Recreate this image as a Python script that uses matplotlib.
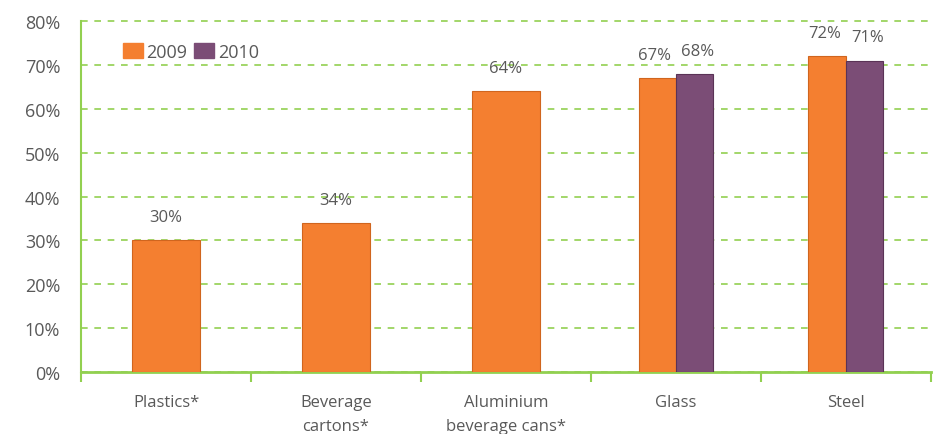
import matplotlib.pyplot as plt
import numpy as np

plt.rcParams['font.family'] = ['Open Sans', 'DejaVu Sans']

# data
categories = ['Plastics*', 'Beverage\ncartons*', 'Aluminium\nbeverage cans*', 'Glass', 'Steel']
values_2009 = [30, 34, 64, 67, 72]
values_2010 = [None, None, None, 68, 71]

orange = '#F47F30'
purple = '#7B4D76'
green = '#92D050'
text_col = '#595959'

fig = plt.figure(figsize=(9.39, 4.35), dpi=100)
ax = fig.add_axes([0.0863, 0.1425, 0.905, 0.8065])

x = np.arange(len(categories))
for i in range(len(categories)):
    v09 = values_2009[i]
    v10 = values_2010[i]
    if v10 is None:
        ax.bar(x[i], v09, width=0.4, color=orange, edgecolor='#D0651E', linewidth=0.8, zorder=3)
        ax.annotate(f'{v09}%', (x[i], v09), xytext=(0, 11), textcoords='offset points',
                    ha='center', va='bottom', fontsize=12, color=text_col)
    else:
        ax.bar(x[i] - 0.11, v09, width=0.22, color=orange, edgecolor='#D0651E', linewidth=0.8, zorder=3)
        ax.bar(x[i] + 0.11, v10, width=0.22, color=purple, edgecolor='#5A3356', linewidth=0.8, zorder=3)
        ax.annotate(f'{v09}%', (x[i] - 0.11, v09), xytext=(-2, 11), textcoords='offset points',
                    ha='center', va='bottom', fontsize=12, color=text_col)
        ax.annotate(f'{v10}%', (x[i] + 0.11, v10), xytext=(2, 11), textcoords='offset points',
                    ha='center', va='bottom', fontsize=12, color=text_col)

ax.set_xlim(-0.5, 4.5)
ax.set_ylim(0, 80)
ax.set_yticks(range(0, 81, 10))
ax.set_yticklabels([f'{t}%' for t in range(0, 81, 10)])
ax.yaxis.grid(True, color=green, linestyle=(0, (4, 4)), linewidth=1.2, zorder=0)
for gl in ax.get_ygridlines():
    gl.set_clip_on(False)
ax.tick_params(axis='y', length=0, pad=15, labelsize=13, labelcolor=text_col)

ax.set_xticks(x)
ax.set_xticklabels(categories)
ax.set_xticks(np.arange(-0.5, 4.6, 1), minor=True)
ax.tick_params(axis='x', which='major', length=0, pad=16, labelsize=12, labelcolor=text_col)
ax.tick_params(axis='x', which='minor', length=7, width=1.5, color=green, direction='out')
for lab in ax.get_xticklabels():
    lab.set_verticalalignment('top')
    lab.set_linespacing(1.65)

for side in ['top', 'right']:
    ax.spines[side].set_visible(False)
ax.spines['left'].set_color(green)
ax.spines['left'].set_linewidth(1.5)
ax.spines['bottom'].set_color(green)
ax.spines['bottom'].set_linewidth(2)

handles = [plt.Rectangle((0, 0), 1, 1, color=orange), plt.Rectangle((0, 0), 1, 1, color=purple)]
ax.legend(handles, ['2009', '2010'], loc='upper left', bbox_to_anchor=(0.03, 0.985), ncol=2,
          frameon=False, fontsize=13, labelcolor=text_col, handlelength=1.1, handleheight=0.9,
          handletextpad=0.2, columnspacing=0.4)

fig.savefig('out.png', dpi=100)
